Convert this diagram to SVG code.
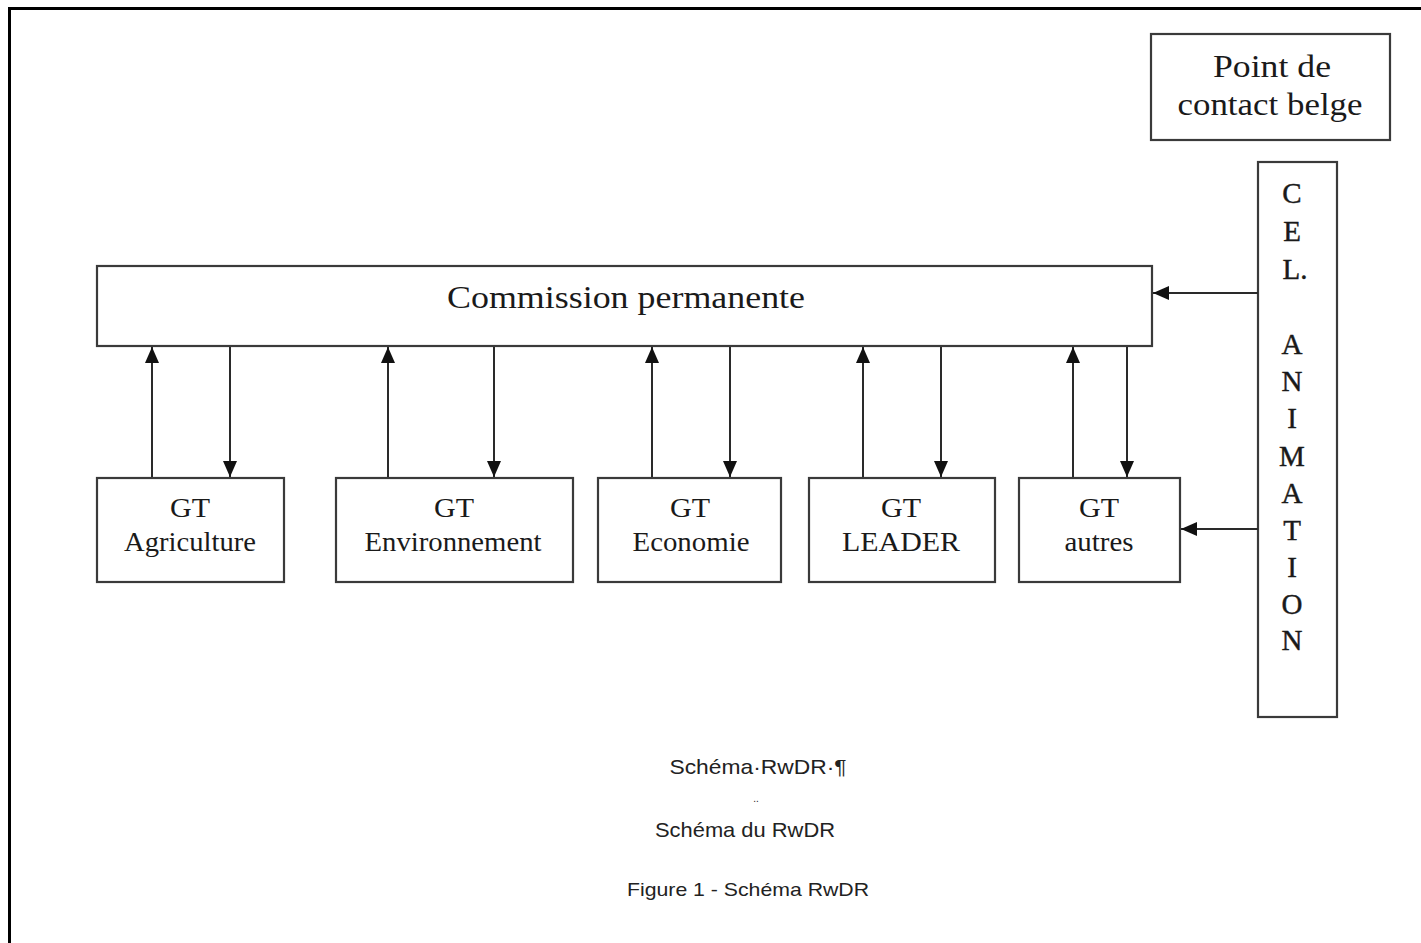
<svg xmlns="http://www.w3.org/2000/svg" width="1421" height="943" viewBox="0 0 1421 943">
<defs>
<marker id="ah" viewBox="0 0 16 14" refX="16" refY="7" markerWidth="16" markerHeight="14" markerUnits="userSpaceOnUse" orient="auto">
<path d="M0,0 L16,7 L0,14 Z" fill="#111"/>
</marker>
</defs>
<style>
.box{fill:#fff;stroke:#3a3a3a;stroke-width:2.2}
.t{font-family:"Liberation Serif","Times New Roman",serif;fill:#1a1a1a;text-anchor:middle}
.big{font-size:32px}
.gt{font-size:28px}
.v{font-size:29px;stroke:#1a1a1a;stroke-width:0.4}
.cap{font-family:"Liberation Sans",Arial,sans-serif;fill:#222;text-anchor:middle}
.ln{stroke:#2a2a2a;stroke-width:2;fill:none}
</style>
<rect width="1421" height="943" fill="#fff"/>
<g id="frame">
<line x1="9" y1="8.5" x2="1421" y2="8.5" stroke="#000" stroke-width="3"/>
<line x1="9.5" y1="7" x2="9.5" y2="943" stroke="#000" stroke-width="3"/>
</g>
<g id="point-contact">
<rect class="box" x="1151" y="34" width="239" height="106"/>
<text class="t big" x="1272" y="77" textLength="118" lengthAdjust="spacingAndGlyphs">Point de</text>
<text class="t big" x="1270" y="115" textLength="185" lengthAdjust="spacingAndGlyphs">contact belge</text>
</g>
<g id="cel-animation">
<rect class="box" x="1258" y="162" width="79" height="555"/>
<text class="t v" x="1292" y="203">C</text>
<text class="t v" x="1292" y="241">E</text>
<text class="t v" x="1295" y="279">L.</text>
<text class="t v" x="1292" y="354">A</text>
<text class="t v" x="1292" y="391">N</text>
<text class="t v" x="1292" y="428">I</text>
<text class="t v" x="1292" y="466">M</text>
<text class="t v" x="1292" y="503">A</text>
<text class="t v" x="1292" y="540">T</text>
<text class="t v" x="1292" y="577">I</text>
<text class="t v" x="1292" y="614">O</text>
<text class="t v" x="1292" y="650">N</text>
</g>
<g id="commission">
<rect class="box" x="97" y="266" width="1055" height="80"/>
<text class="t big" x="626" y="308" textLength="358" lengthAdjust="spacingAndGlyphs">Commission permanente</text>
</g>
<g id="gt-agriculture">
<rect class="box" x="97" y="478" width="187" height="104"/>
<text class="t gt" x="190" y="517" textLength="40" lengthAdjust="spacingAndGlyphs">GT</text>
<text class="t gt" x="190" y="551" textLength="132" lengthAdjust="spacingAndGlyphs">Agriculture</text>
</g>
<g id="gt-environnement">
<rect class="box" x="336" y="478" width="237" height="104"/>
<text class="t gt" x="454" y="517" textLength="40" lengthAdjust="spacingAndGlyphs">GT</text>
<text class="t gt" x="453" y="551" textLength="177" lengthAdjust="spacingAndGlyphs">Environnement</text>
</g>
<g id="gt-economie">
<rect class="box" x="598" y="478" width="183" height="104"/>
<text class="t gt" x="690" y="517" textLength="40" lengthAdjust="spacingAndGlyphs">GT</text>
<text class="t gt" x="691" y="551" textLength="117" lengthAdjust="spacingAndGlyphs">Economie</text>
</g>
<g id="gt-leader">
<rect class="box" x="809" y="478" width="186" height="104"/>
<text class="t gt" x="901" y="517" textLength="40" lengthAdjust="spacingAndGlyphs">GT</text>
<text class="t gt" x="901" y="551" textLength="118" lengthAdjust="spacingAndGlyphs">LEADER</text>
</g>
<g id="gt-autres">
<rect class="box" x="1019" y="478" width="161" height="104"/>
<text class="t gt" x="1099" y="517" textLength="40" lengthAdjust="spacingAndGlyphs">GT</text>
<text class="t gt" x="1099" y="551" textLength="69" lengthAdjust="spacingAndGlyphs">autres</text>
</g>
<g id="connectors">
<line class="ln" x1="152" y1="477" x2="152" y2="347" marker-end="url(#ah)"/>
<line class="ln" x1="230" y1="347" x2="230" y2="477" marker-end="url(#ah)"/>
<line class="ln" x1="388" y1="477" x2="388" y2="347" marker-end="url(#ah)"/>
<line class="ln" x1="494" y1="347" x2="494" y2="477" marker-end="url(#ah)"/>
<line class="ln" x1="652" y1="477" x2="652" y2="347" marker-end="url(#ah)"/>
<line class="ln" x1="730" y1="347" x2="730" y2="477" marker-end="url(#ah)"/>
<line class="ln" x1="863" y1="477" x2="863" y2="347" marker-end="url(#ah)"/>
<line class="ln" x1="941" y1="347" x2="941" y2="477" marker-end="url(#ah)"/>
<line class="ln" x1="1073" y1="477" x2="1073" y2="347" marker-end="url(#ah)"/>
<line class="ln" x1="1127" y1="347" x2="1127" y2="477" marker-end="url(#ah)"/>
<line class="ln" x1="1258" y1="293" x2="1153" y2="293" marker-end="url(#ah)"/>
<line class="ln" x1="1258" y1="529" x2="1181" y2="529" marker-end="url(#ah)"/>
</g>
<g id="captions">
<text class="cap" x="758" y="774" font-size="21" fill="#333" textLength="177" lengthAdjust="spacingAndGlyphs">Schéma·RwDR·¶</text>
<text class="cap" x="756" y="802" font-size="10" fill="#666">..</text>
<text class="cap" x="745" y="837" font-size="21" textLength="180" lengthAdjust="spacingAndGlyphs">Schéma du RwDR</text>
<text class="cap" x="748" y="896" font-size="19" textLength="242" lengthAdjust="spacingAndGlyphs">Figure 1 - Schéma RwDR</text>
</g>
</svg>
